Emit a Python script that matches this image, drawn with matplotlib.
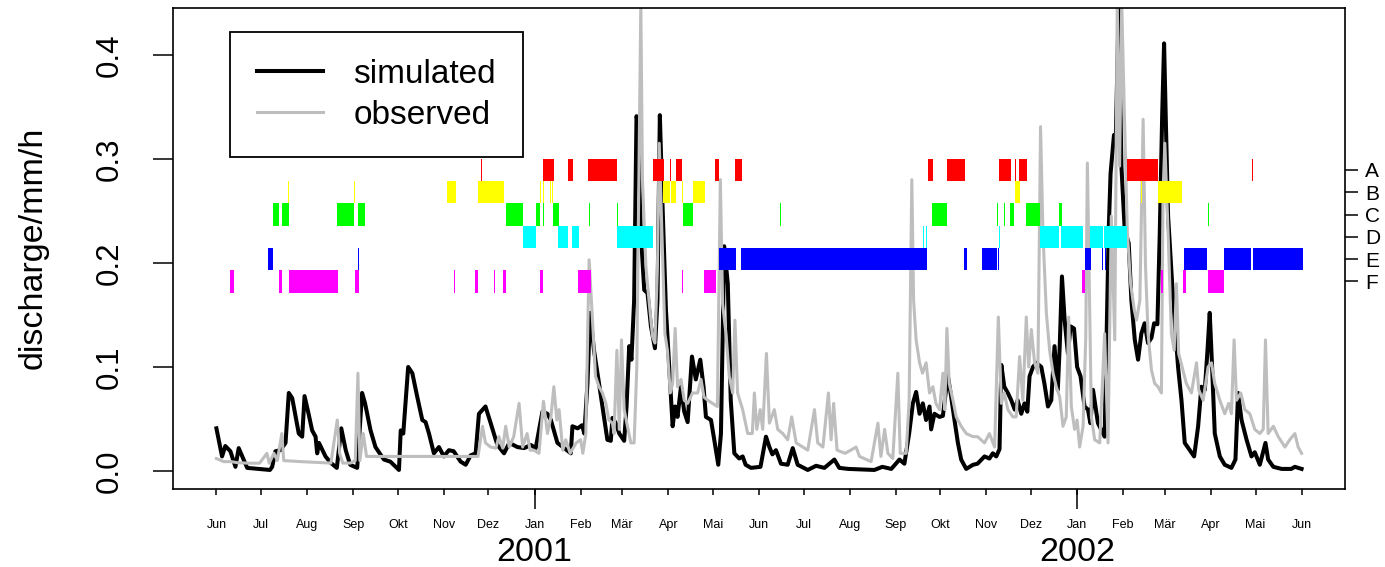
import numpy as np
import matplotlib
matplotlib.use('Agg')
import matplotlib.pyplot as plt
import matplotlib.dates as mdates
import pandas as pd

plt.rcParams['font.family'] = ['Liberation Sans', 'DejaVu Sans']

# ---- data (days counted from 2000-06-01) ----
sim_days = [0, 3.8, 6, 9.4, 12.8, 15, 20.7, 36, 37.5, 39.7,
            43, 46.5, 48.7, 51, 55.4, 57.7, 59.3, 62, 64.4, 66.7,
            67.8, 69, 73.4, 76.8, 81, 84, 87, 90, 94.7, 98,
            100, 103.7, 107, 112.7, 117, 122.8, 124, 125.7, 129, 131.8,
            135, 138.5, 140.7, 143, 146.3, 149.7, 153, 156.4, 159.6, 164.3,
            167.7, 171, 174.4, 176.6, 181, 184.5, 189, 193.5, 197, 202.5,
            207, 211.5, 214.8, 219.3, 222.7, 225, 229.4, 234, 238.4, 239.5,
            243, 246, 247.5, 249.6, 251.4, 254, 257.4, 261, 263, 265.3,
            266.4, 268.7, 271, 274.3, 275.9, 277.7, 279.2, 281, 282.6, 283.7,
            285.5, 287.8, 290, 292.3, 295, 296.7, 298.3, 300, 302.4, 304.6,
            306.9, 308.6, 310.2, 312.5, 314.7, 317, 319.9, 322.5, 325.5, 327.7,
            329.3, 332.7, 334.9, 337.6, 339.4, 341.6, 344, 346, 348.4, 351.7,
            354, 356, 359.6, 366, 369.7, 372, 374, 376.4, 379.8, 384.3,
            387.7, 391, 397.8, 403.4, 409, 415.7, 419, 425, 442.6, 448,
            454, 459.5, 462.8, 466, 468.5, 470.7, 473, 475.2, 477.4, 479.7,
            480.8, 483, 486.4, 488.7, 492, 494.3, 496.5, 498.8, 501, 504.4,
            509, 512, 516.7, 520, 522.3, 524.6, 526.8, 528, 530, 532.4,
            534.7, 537, 539, 541.4, 543.6, 545.5, 547, 549.3, 551.5, 554.9,
            557, 559.4, 561.6, 563.8, 566, 567.3, 568.8, 570.6, 572.8, 574.6,
            576.9, 579, 581.3, 584, 586.3, 587.9, 589.7, 593, 597.5, 600.2,
            601.5, 603.8, 605, 607, 608.8, 611, 613.7, 615.5, 617.8, 620,
            622.2, 624.4, 626.7, 629, 630.8, 633, 634.6, 636.2, 637.5, 638.6,
            640.2, 643.6, 646.9, 649.2, 651.4, 654.8, 657.7, 660.4, 662.6, 664.9,
            666.7, 668.2, 669.8, 671.6, 675, 678.3, 682.8, 685.5, 687.3, 689.6,
            693, 696.3, 698.5, 701.9, 705.7, 707.5, 711, 716.6, 723, 725.5, 730]
sim_vals = [0.041, 0.014, 0.024, 0.019, 0.004, 0.022, 0.003, 0.001, 0.004, 0.019,
            0.020, 0.027, 0.075, 0.070, 0.036, 0.033, 0.072, 0.055, 0.039, 0.033,
            0.017, 0.027, 0.014, 0.008, 0.003, 0.041, 0.020, 0.006, 0.003, 0.075,
            0.065, 0.039, 0.023, 0.011, 0.009, 0.001, 0.039, 0.036, 0.100, 0.094,
            0.072, 0.049, 0.047, 0.036, 0.017, 0.023, 0.014, 0.020, 0.019, 0.009,
            0.006, 0.015, 0.017, 0.055, 0.062, 0.046, 0.025, 0.017, 0.027, 0.023,
            0.022, 0.025, 0.022, 0.057, 0.055, 0.049, 0.027, 0.022, 0.017, 0.043,
            0.041, 0.044, 0.036, 0.084, 0.152, 0.116, 0.084, 0.049, 0.030, 0.029,
            0.051, 0.046, 0.036, 0.029, 0.062, 0.120, 0.107, 0.164, 0.341, 0.334,
            0.229, 0.174, 0.171, 0.139, 0.118, 0.164, 0.342, 0.260, 0.155, 0.100,
            0.043, 0.062, 0.052, 0.081, 0.057, 0.047, 0.110, 0.088, 0.107, 0.081,
            0.052, 0.049, 0.030, 0.006, 0.036, 0.216, 0.180, 0.068, 0.017, 0.012,
            0.014, 0.006, 0.003, 0.004, 0.033, 0.023, 0.016, 0.020, 0.007, 0.006,
            0.022, 0.006, 0.001, 0.005, 0.003, 0.011, 0.003, 0.002, 0.001, 0.004,
            0.002, 0.011, 0.007, 0.036, 0.065, 0.076, 0.055, 0.065, 0.049, 0.062,
            0.040, 0.055, 0.052, 0.053, 0.092, 0.071, 0.049, 0.027, 0.011, 0.002,
            0.006, 0.007, 0.014, 0.012, 0.017, 0.014, 0.021, 0.102, 0.081, 0.075,
            0.068, 0.059, 0.068, 0.055, 0.065, 0.057, 0.091, 0.100, 0.104, 0.100,
            0.084, 0.062, 0.068, 0.120, 0.078, 0.120, 0.187, 0.145, 0.113, 0.139,
            0.137, 0.100, 0.091, 0.062, 0.059, 0.046, 0.078, 0.046, 0.033, 0.229,
            0.286, 0.323, 0.319, 0.450, 0.293, 0.232, 0.219, 0.164, 0.126, 0.107,
            0.132, 0.142, 0.123, 0.128, 0.142, 0.141, 0.229, 0.341, 0.411, 0.341,
            0.245, 0.164, 0.100, 0.068, 0.027, 0.020, 0.014, 0.043, 0.081, 0.078,
            0.116, 0.152, 0.100, 0.036, 0.014, 0.006, 0.003, 0.011, 0.075, 0.049,
            0.030, 0.014, 0.018, 0.006, 0.027, 0.011, 0.004, 0.002, 0.002, 0.004, 0.002]

obs_days = [0, 5, 10, 14, 22, 29, 34, 35.5, 38.7, 41,
            44, 45.3, 57, 77, 81.3, 82.9, 85, 90, 93.4, 95.2,
            96.5, 98.8, 101, 124, 146.5, 161.6, 176, 179, 181, 184.5,
            188, 190, 192.6, 194.6, 197, 200, 203.6, 206, 209, 211,
            213.6, 217, 220, 222.7, 225, 227, 229, 230.5, 233, 235,
            238, 242, 245, 246.5, 248.5, 250.7, 253, 255, 257.4, 259.7,
            262, 264, 266.4, 267.5, 269.4, 271, 272.5, 274.3, 276.5, 278.8,
            281, 282.8, 285.5, 286.6, 288.9, 291, 293.4, 295, 296.7, 297.9,
            299.7, 301.7, 303.4, 305.3, 306.9, 308.6, 310.2, 312.5, 314.7, 317,
            320.3, 323.7, 326, 328, 330.5, 333.8, 337, 339, 340.5, 342.8,
            345, 347.3, 348.8, 350.6, 354, 357.4, 360.5, 361.9, 363.5, 365.8,
            367.5, 370, 372, 375.3, 377.6, 381, 384.3, 387, 390, 394.5,
            397.8, 402.3, 404.5, 408, 411.7, 413.5, 415.2, 417.5, 423, 430.3,
            432.6, 440.4, 445, 447, 449.5, 451.7, 455, 458.4, 460, 464,
            466, 467.8, 469, 470.7, 473, 475, 477.4, 479.7, 482, 484,
            486.4, 488.7, 490, 491.4, 493, 495.5, 497.7, 501, 504.4, 509,
            512, 516.7, 520, 523.5, 526, 528, 530, 532.4, 535.8, 538,
            540.3, 542.5, 544.8, 546.4, 548.2, 550.4, 552.6, 554.4, 556, 558.3,
            560.5, 562.8, 565, 567.3, 569.5, 571.7, 573.3, 575.1, 577.3, 579,
            580.7, 583, 584.8, 585.9, 587.4, 588.6, 590.8, 594.2, 597.5, 599.8,
            602, 604.3, 606, 607.6, 609, 611, 612.8, 615, 617.4, 619,
            621.2, 623.4, 625, 626.7, 629, 631.2, 633.4, 635.7, 636.8, 638,
            640.2, 642.4, 644.3, 645.8, 647.3, 649.6, 652.5, 655.9, 659.3, 660.8,
            663.8, 667.1, 669.4, 671.6, 675, 678.3, 681, 682.8, 684.6, 686.2,
            689.1, 691.8, 695.2, 698.5, 701.9, 704.2, 705.7, 707.5, 711, 714.3,
            718.8, 722, 725.5, 727.7, 730]
obs_vals = [0.012, 0.009, 0.009, 0.008, 0.0075, 0.0075, 0.017, 0.0075, 0.017, 0.010,
            0.036, 0.010, 0.009, 0.0076, 0.049, 0.017, 0.0076, 0.0076, 0.010, 0.094,
            0.010, 0.036, 0.014, 0.014, 0.014, 0.014, 0.014, 0.043, 0.027, 0.023,
            0.022, 0.033, 0.022, 0.043, 0.023, 0.033, 0.065, 0.023, 0.036, 0.020,
            0.020, 0.017, 0.067, 0.036, 0.052, 0.081, 0.049, 0.059, 0.020, 0.030,
            0.017, 0.027, 0.030, 0.017, 0.036, 0.203, 0.145, 0.091, 0.081, 0.075,
            0.065, 0.049, 0.046, 0.036, 0.116, 0.040, 0.126, 0.059, 0.043, 0.027,
            0.027, 0.100, 0.450, 0.280, 0.197, 0.164, 0.129, 0.123, 0.197, 0.315,
            0.229, 0.132, 0.116, 0.075, 0.084, 0.137, 0.081, 0.088, 0.068, 0.065,
            0.075, 0.075, 0.088, 0.071, 0.068, 0.065, 0.062, 0.280, 0.161, 0.132,
            0.091, 0.075, 0.145, 0.075, 0.059, 0.036, 0.036, 0.075, 0.040, 0.059,
            0.040, 0.113, 0.046, 0.059, 0.040, 0.036, 0.030, 0.052, 0.027, 0.023,
            0.020, 0.059, 0.027, 0.023, 0.075, 0.030, 0.065, 0.020, 0.017, 0.023,
            0.014, 0.009, 0.046, 0.014, 0.040, 0.017, 0.012, 0.094, 0.017, 0.017,
            0.068, 0.280, 0.164, 0.126, 0.104, 0.094, 0.104, 0.075, 0.081, 0.065,
            0.059, 0.094, 0.059, 0.137, 0.084, 0.068, 0.052, 0.043, 0.036, 0.033,
            0.033, 0.027, 0.036, 0.023, 0.148, 0.065, 0.075, 0.059, 0.052, 0.052,
            0.110, 0.068, 0.148, 0.100, 0.136, 0.104, 0.094, 0.331, 0.229, 0.152,
            0.116, 0.094, 0.081, 0.071, 0.043, 0.052, 0.148, 0.062, 0.040, 0.049,
            0.023, 0.043, 0.128, 0.296, 0.164, 0.052, 0.030, 0.027, 0.132, 0.027,
            0.245, 0.126, 0.450, 0.293, 0.450, 0.331, 0.229, 0.180, 0.155, 0.145,
            0.164, 0.338, 0.197, 0.132, 0.097, 0.084, 0.081, 0.075, 0.267, 0.315,
            0.229, 0.132, 0.116, 0.180, 0.113, 0.100, 0.084, 0.075, 0.104, 0.078,
            0.068, 0.100, 0.104, 0.084, 0.068, 0.055, 0.065, 0.055, 0.126, 0.068,
            0.075, 0.059, 0.055, 0.040, 0.036, 0.040, 0.126, 0.036, 0.043, 0.033,
            0.023, 0.030, 0.036, 0.023, 0.017]

# periods per class (start day, end day)
seg_A = [(178, 178.8), (220, 227), (236.4, 239.8), (250, 269.5), (293.6, 300.8),
         (305, 306), (309, 313), (335.4, 337.8), (348.8, 353.5), (478.8, 482.2),
         (491.6, 503.7), (526.6, 534.7), (537, 537.7), (540, 545.5), (612.8, 633.5),
         (696.5, 697.2)]
seg_B = [(48, 48.8), (92.5, 93.3), (154.9, 161), (175.8, 193.3), (217.7, 218.4),
         (219.5, 220.2), (224.4, 225.1), (225.5, 226.2), (300.3, 305.3), (305.7, 309.5),
         (313, 313.7), (320.5, 328.6), (537, 540.7), (622, 622.8), (633.7, 649.8)]
seg_C = [(38.4, 42.4), (44.4, 48.5), (80.8, 92.3), (95, 99.7), (194.6, 206),
         (215, 218), (219.5, 220.2), (226.3, 230.3), (250.5, 251.2), (269.4, 270.1),
         (313.8, 320.5), (379.3, 380), (481.5, 491.6), (525, 525.7), (529.5, 530.2),
         (534, 536.7), (544.8, 554.2), (567, 569), (667.3, 668)]
seg_D = [(206, 214.8), (229.6, 236.4), (239, 243.8), (269.4, 293.6), (475.4, 476.1),
         (477.4, 478.1), (526.6, 527.3), (554.2, 567), (568.4, 583.2), (587.9, 596.6),
         (597.3, 612.8)]
seg_E = [(35, 38.4), (95, 95.7), (338, 349.5), (352.9, 478), (503, 505),
         (515, 525.3), (526, 526.7), (584.5, 588.6), (596, 596.7), (598, 598.7),
         (651, 666.7), (678, 696.3), (697, 731)]
seg_F = [(9.4, 12), (42.4, 44.4), (48.5, 81.5), (93, 95.6), (160, 160.7),
         (173.7, 175.8), (187, 187.7), (192.6, 194.6), (218, 220), (243, 251.9),
         (313, 313.7), (328, 336), (582.5, 584.5), (635.7, 637), (650, 652), (667, 678)]

row_labels = ['A', 'B', 'C', 'D', 'E', 'F']
row_levels = [0.2894, 0.2680, 0.2465, 0.2251, 0.2037, 0.1822]
row_colors = ['#FF0000', '#FFFF00', '#00FF00', '#00FFFF', '#0000FF', '#FF00FF']
month_names = ['Jan', 'Feb', 'Mär', 'Apr', 'Mai', 'Jun',
               'Jul', 'Aug', 'Sep', 'Okt', 'Nov', 'Dez']

# ---- plot ----
t0 = mdates.date2num(np.datetime64('2000-06-01'))
W, H = 1385, 567
fig = plt.figure(figsize=(W / 100, H / 100), dpi=100)
ax = fig.add_axes([173 / W, 1 - 489 / H, (1345 - 173) / W, (489 - 8) / H])

l_sim, = ax.plot(t0 + np.array(sim_days), sim_vals, color='black', lw=2.9,
                 solid_joinstyle='round', zorder=2, label='simulated')
l_obs, = ax.plot(t0 + np.array(obs_days), obs_vals, color='#bebebe', lw=2.2,
                 solid_joinstyle='round', zorder=2.1, label='observed')

row_h = 0.02144
for segs, lvl, col in zip([seg_A, seg_B, seg_C, seg_D, seg_E, seg_F], row_levels, row_colors):
    ax.broken_barh([(t0 + s, e - s) for s, e in segs], (lvl - row_h / 2, row_h),
                   facecolors=col, edgecolor='none', zorder=3)

ax.set_xlim(t0 - 29.2, t0 + 730 + 29.2)
ax.set_ylim(-0.0173, 0.445)

# y axis
ax.set_yticks([0.0, 0.1, 0.2, 0.3, 0.4])
ax.set_yticklabels(['0.0', '0.1', '0.2', '0.3', '0.4'], rotation=90, va='center')
ax.tick_params(axis='y', length=14.4, width=1.1, labelsize=22.5, pad=20)
fig.text(33 / W, 1 - 248 / H, 'discharge/mm/h', rotation=90, ha='center', va='center',
         fontsize=24.5)

# x axis: months (minor) and years (major)
months = pd.date_range('2000-06-01', '2002-06-01', freq='MS')
ax.set_xticks(mdates.date2num(months.to_pydatetime()), minor=True)
ax.set_xticklabels([month_names[m.month - 1] for m in months], minor=True)
jans = pd.to_datetime(['2001-01-01', '2002-01-01'])
ax.set_xticks(mdates.date2num(jans.to_pydatetime()))
ax.set_xticklabels(['2001', '2002'])
ax.xaxis.remove_overlapping_locs = False
ax.tick_params(axis='x', which='minor', length=4.3, width=1.1, labelsize=9, pad=17.5)
ax.tick_params(axis='x', which='major', length=14.4, width=1.1, labelsize=24.5, pad=20)

for sp in ax.spines.values():
    sp.set_linewidth(1.2)

# class labels on the right
ax2 = ax.twinx()
ax2.set_ylim(ax.get_ylim())
ax2.set_yticks(row_levels)
ax2.set_yticklabels(row_labels)
ax2.tick_params(axis='y', length=9.5, width=1.1, labelsize=15, pad=5)
for sp in ax2.spines.values():
    sp.set_visible(False)

leg = ax.legend(handles=[l_sim, l_obs], loc='upper left', bbox_to_anchor=(0.0486, 0.950),
                borderaxespad=0, fontsize=24, handlelength=2.0, handletextpad=0.9,
                borderpad=0.8, labelspacing=0.3, fancybox=False, framealpha=1,
                edgecolor='black')
leg.get_frame().set_linewidth(1.3)
leg.set_zorder(5)

fig.savefig('out.png', dpi=100)
